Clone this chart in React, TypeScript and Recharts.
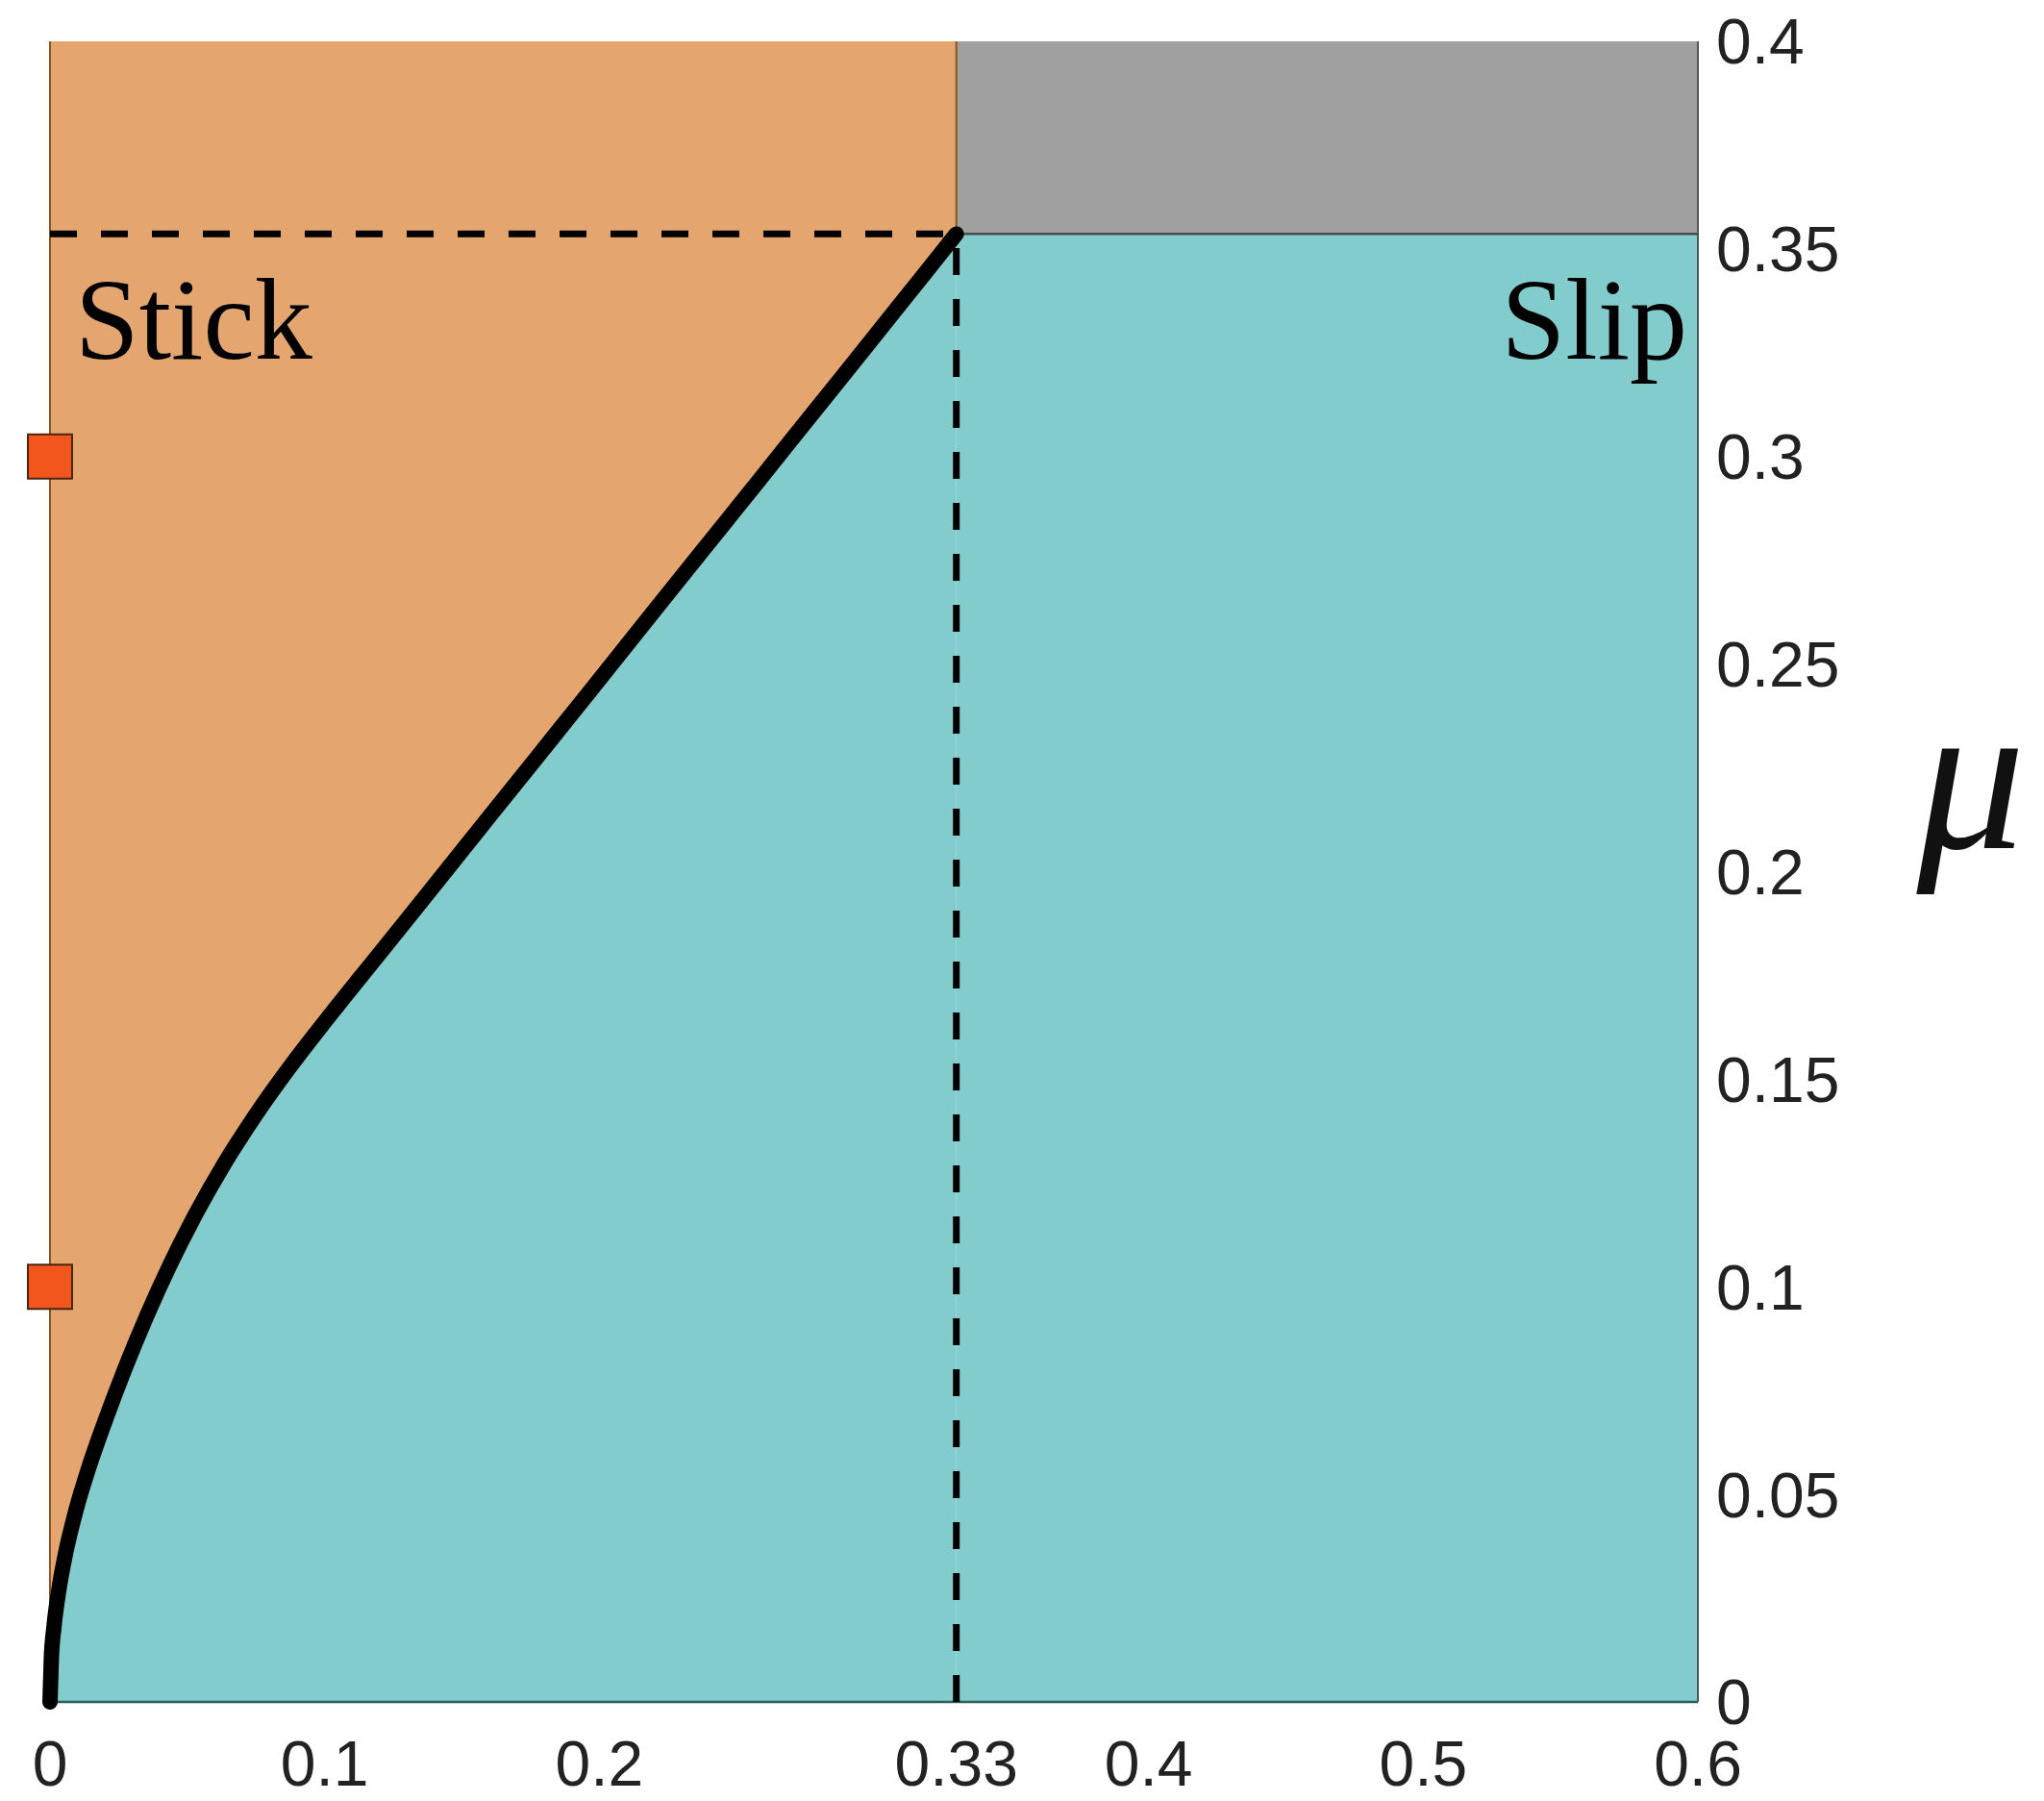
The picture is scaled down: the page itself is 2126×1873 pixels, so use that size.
import { ComposedChart, Area, Line, Scatter, XAxis, YAxis, ReferenceArea, ReferenceLine } from 'recharts';

// boundary curve mu(x)
const curveX = [0, 0.0005, 0.0014, 0.0033, 0.0057, 0.0095, 0.0142, 0.0199, 0.0271, 0.0351, 0.0437, 0.0532, 0.0636, 0.075, 0.0873, 0.1006, 0.1199, 0.1391, 0.1583, 0.1775, 0.1968, 0.2167, 0.2367, 0.2575, 0.2783, 0.2986, 0.3178, 0.33];
const curveMu = [0, 0.0106, 0.0178, 0.0273, 0.0359, 0.0463, 0.0566, 0.0674, 0.08, 0.0928, 0.1053, 0.1177, 0.1298, 0.1415, 0.1529, 0.1643, 0.1802, 0.196, 0.2119, 0.2277, 0.2436, 0.2601, 0.2766, 0.2937, 0.3109, 0.3276, 0.3435, 0.3536];

const xTicks = [0, 0.1, 0.2, 0.33, 0.4, 0.5, 0.6];
const yTicks = [0, 0.05, 0.1, 0.15, 0.2, 0.25, 0.3, 0.35, 0.4];

const critX = 0.33;
const critMu = 0.3536;
const xMax = 0.6;
const yMax = 0.4;

const markerX = [0, 0];
const markerMu = [0.3, 0.1];

const data = curveX.map((x, i) => ({ x, mu: curveMu[i] }));
const markers = markerX.map((x, i) => ({ x, mu: markerMu[i] }));

const ORANGE = '#E4A66E';
const TEAL = '#82CCCE';
const GRAY = '#A0A0A0';
const SQUARE = '#F2561D';

const W = 2110;
const H = 1857;
const margin = { top: 35, left: 44, right: 152, bottom: 5 };
const Y_AXIS_W = 200;
const X_AXIS_H = 90;
const plotLeft = margin.left;
const plotTop = margin.top;
const plotRight = W - margin.right - Y_AXIS_W;

const tickFont = { fill: '#222', fontSize: 66, fontFamily: 'Liberation Sans, Arial, sans-serif' };
const serif = 'Liberation Serif, Times New Roman, serif';

function SquareMarker(props: any) {
  const { cx, cy } = props;
  const s = 46;
  return <rect x={cx - s / 2} y={cy - s / 2} width={s} height={s} fill={SQUARE} stroke="#4a2612" strokeWidth={2} />;
}

export default function App() {
  return (
    <div style={{ width: W, height: H, position: 'relative' }}>
      <ComposedChart width={W} height={H} data={data} margin={margin}>
        <XAxis
          dataKey="x"
          type="number"
          domain={[0, xMax]}
          ticks={xTicks}
          interval={0}
          height={X_AXIS_H}
          axisLine={false}
          tickLine={false}
          tickMargin={34}
          tick={tickFont}
        />
        <YAxis
          type="number"
          orientation="right"
          domain={[0, yMax]}
          ticks={yTicks}
          interval={0}
          width={Y_AXIS_W}
          axisLine={false}
          tickLine={false}
          tickMargin={13}
          tick={{ ...tickFont, textAnchor: 'start' }}
        />
        <Area type="monotone" dataKey={(d: any) => [d.mu, yMax]} fill={ORANGE} fillOpacity={1} stroke="none" isAnimationActive={false} />
        <Area type="monotone" dataKey="mu" baseValue={0} fill={TEAL} fillOpacity={1} stroke="none" isAnimationActive={false} />
        <ReferenceArea x1={critX} x2={xMax} y1={0} y2={critMu} fill={TEAL} fillOpacity={1} stroke="none" />
        <ReferenceArea x1={critX} x2={xMax} y1={critMu} y2={yMax} fill={GRAY} fillOpacity={1} stroke="none" />

        {/* patch edges */}
        <ReferenceLine segment={[{ x: 0, y: 0 }, { x: 0, y: yMax }]} stroke="#8a531f" strokeWidth={2} />
        <ReferenceLine segment={[{ x: 0, y: 0 }, { x: xMax, y: 0 }]} stroke="#2d5f60" strokeWidth={2.5} />
        <ReferenceLine segment={[{ x: xMax, y: 0 }, { x: xMax, y: yMax }]} stroke="#4d5a5a" strokeWidth={2} />
        <ReferenceLine segment={[{ x: critX, y: critMu }, { x: critX, y: yMax }]} stroke="#8a531f" strokeWidth={2} />
        <ReferenceLine segment={[{ x: critX, y: critMu }, { x: xMax, y: critMu }]} stroke="#4a4a4a" strokeWidth={2.5} />

        {/* dashed guides */}
        <ReferenceLine segment={[{ x: 0, y: critMu }, { x: critX, y: critMu }]} stroke="#000" strokeWidth={7} strokeDasharray="28 25" />
        <ReferenceLine segment={[{ x: critX, y: 0 }, { x: critX, y: critMu }]} stroke="#000" strokeWidth={7} strokeDasharray="28 25" />

        <Line type="monotone" dataKey="mu" stroke="#000" strokeWidth={16} strokeLinecap="round" strokeLinejoin="round" dot={false} isAnimationActive={false} />
        <Scatter data={markers} dataKey="mu" shape={<SquareMarker />} isAnimationActive={false} />
      </ComposedChart>
      <svg width={W} height={H} style={{ position: 'absolute', left: 0, top: 0, pointerEvents: 'none' }}>
        <text x={plotLeft + 26} y={plotTop + 330} fontSize={120} fontFamily={serif} fill="#000">Stick</text>
        <text x={plotRight - 11} y={plotTop + 330} fontSize={120} fontFamily={serif} fill="#000" textAnchor="end">Slip</text>
        <text x={plotRight + 284} y={874} fontSize={225} fontFamily={serif} fontStyle="italic" fill="#111" textAnchor="middle">μ</text>
      </svg>
    </div>
  );
}
